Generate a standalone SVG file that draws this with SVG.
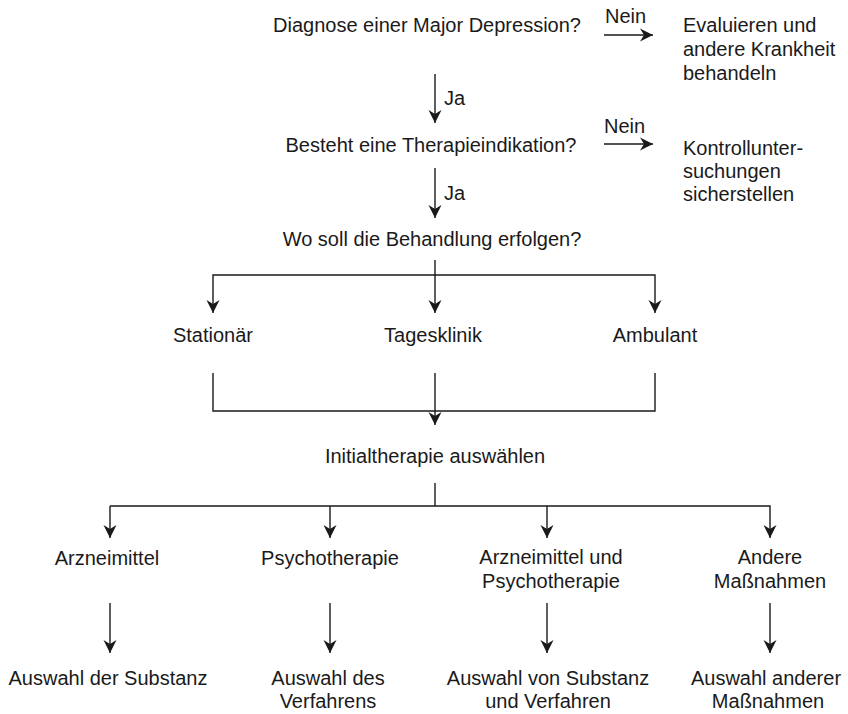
<svg xmlns="http://www.w3.org/2000/svg" width="848" height="714" viewBox="0 0 848 714">
<style>
text{font-family:"Liberation Sans",Arial,sans-serif;font-size:20px;fill:#1a1a1a}
.m{text-anchor:middle}
.c{fill:none;stroke:#1a1a1a;stroke-width:1.4}
</style>
<defs>
<marker id="ah" markerUnits="userSpaceOnUse" markerWidth="16" markerHeight="16" viewBox="-14 -8 16 16" refX="0" refY="0" orient="auto">
<path d="M-13,-6.5 L0,0 L-13,6.5 L-9,0 Z" fill="#1a1a1a"/>
</marker>
</defs>
<rect width="848" height="714" fill="#fff"/>
<g id="connectors">
<path class="c" d="M604,35 H653" marker-end="url(#ah)"/>
<path class="c" d="M604,144 H653" marker-end="url(#ah)"/>
<path class="c" d="M435,74 V123" marker-end="url(#ah)"/>
<path class="c" d="M435,168 V218" marker-end="url(#ah)"/>
<path class="c" d="M435,260 V313" marker-end="url(#ah)"/>
<path class="c" d="M435,275 H213 V313" marker-end="url(#ah)"/>
<path class="c" d="M435,275 H655 V313" marker-end="url(#ah)"/>
<path class="c" d="M213,373 V411 H655 V373"/>
<path class="c" d="M435,373 V425" marker-end="url(#ah)"/>
<path class="c" d="M435,483 V506"/>
<path class="c" d="M110,506 H770 V538" marker-end="url(#ah)"/>
<path class="c" d="M110,506 V538" marker-end="url(#ah)"/>
<path class="c" d="M330,506 V538" marker-end="url(#ah)"/>
<path class="c" d="M547,506 V538" marker-end="url(#ah)"/>
<path class="c" d="M110,603 V653" marker-end="url(#ah)"/>
<path class="c" d="M330,603 V653" marker-end="url(#ah)"/>
<path class="c" d="M547,603 V653" marker-end="url(#ah)"/>
<path class="c" d="M770,603 V653" marker-end="url(#ah)"/>
</g>
<g id="labels">
<text x="605" y="23">Nein</text>
<text x="604" y="133">Nein</text>
<text x="444" y="105">Ja</text>
<text x="444" y="200">Ja</text>
</g>
<g id="n-diagnose"><text class="m" x="427" y="32">Diagnose einer Major Depression?</text></g>
<g id="n-evaluieren"><text x="683" y="32">Evaluieren und</text><text x="683" y="56">andere Krankheit</text><text x="683" y="80">behandeln</text></g>
<g id="n-indikation"><text class="m" x="431" y="152">Besteht eine Therapieindikation?</text></g>
<g id="n-kontrolle"><text x="683" y="155">Kontrollunter-</text><text x="683" y="178">suchungen</text><text x="683" y="201">sicherstellen</text></g>
<g id="n-wo"><text class="m" x="432" y="246">Wo soll die Behandlung erfolgen?</text></g>
<g id="n-stationaer"><text class="m" x="213" y="342">Stationär</text></g>
<g id="n-tagesklinik"><text class="m" x="433" y="342">Tagesklinik</text></g>
<g id="n-ambulant"><text class="m" x="655" y="342">Ambulant</text></g>
<g id="n-initial"><text class="m" x="435" y="463">Initialtherapie auswählen</text></g>
<g id="n-arznei"><text class="m" x="107" y="565">Arzneimittel</text></g>
<g id="n-psycho"><text class="m" x="330" y="565">Psychotherapie</text></g>
<g id="n-kombi"><text class="m" x="551" y="564">Arzneimittel und</text><text class="m" x="551" y="588">Psychotherapie</text></g>
<g id="n-andere"><text class="m" x="770" y="564">Andere</text><text class="m" x="770" y="588">Maßnahmen</text></g>
<g id="n-substanz"><text class="m" x="108" y="685">Auswahl der Substanz</text></g>
<g id="n-verfahren"><text class="m" x="328" y="685">Auswahl des</text><text class="m" x="328" y="708">Verfahrens</text></g>
<g id="n-sv"><text class="m" x="548" y="685">Auswahl von Substanz</text><text class="m" x="548" y="708">und Verfahren</text></g>
<g id="n-am"><text class="m" x="766" y="685">Auswahl anderer</text><text class="m" x="768" y="708">Maßnahmen</text></g>
</svg>
